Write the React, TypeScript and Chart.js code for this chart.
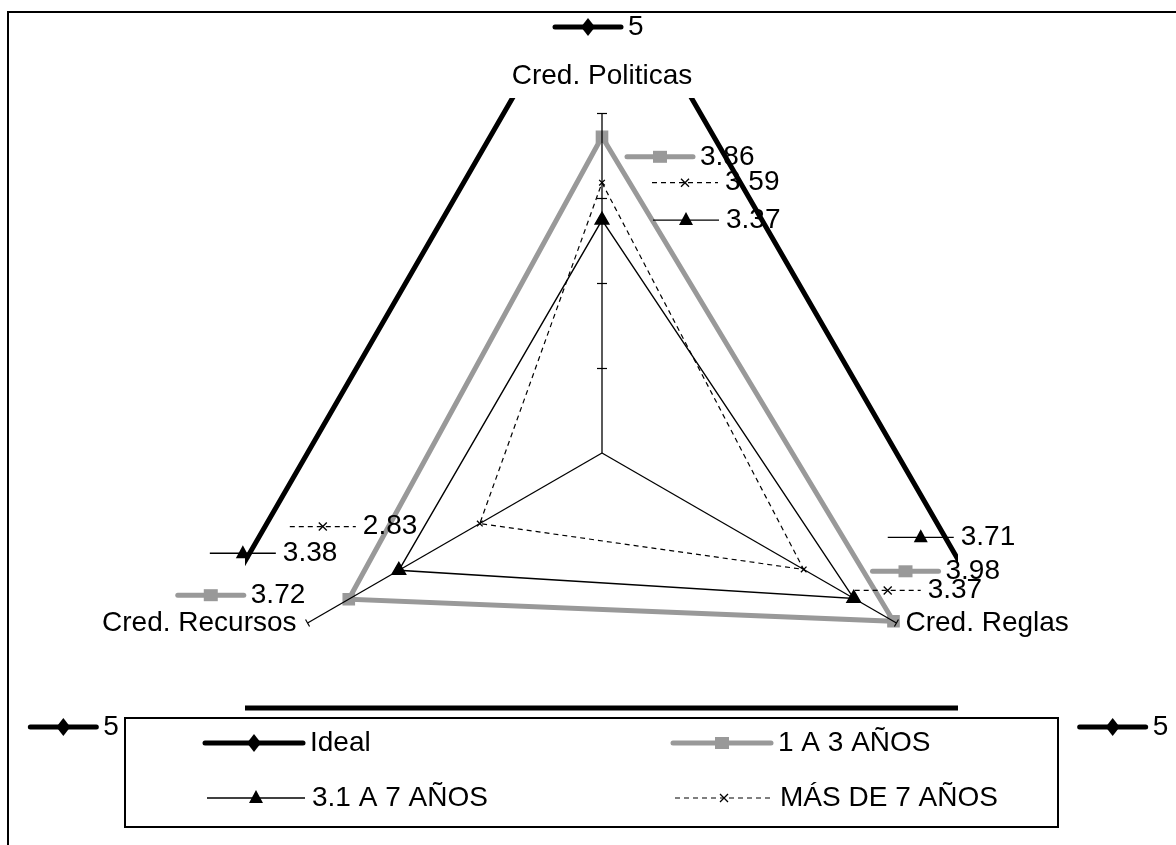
import React, { useEffect, useRef } from 'react';
import { Chart, registerables } from 'chart.js';

Chart.register(...registerables);

// ---------- data ----------
const categories = ['Cred. Politicas', 'Cred. Reglas', 'Cred. Recursos'];
const seriesNames = ['Ideal', '1 A 3 AÑOS', '3.1 A 7 AÑOS', 'MÁS DE 7 AÑOS'];
const idealValues = [5, 5, 5];
const years1to3 = [3.86, 3.98, 3.72];
const years3to7 = [3.37, 3.71, 3.38];
const yearsOver7 = [3.59, 3.37, 2.83];
const axisMin = 2;
const axisMax = 4;
const axisStep = 0.5;
const axisTickValues = [2.5, 3, 3.5, 4];

// ---------- styles / layout ----------
const FONT = '28px "Liberation Sans", Arial, sans-serif';
const GRAY = '#999999';
type Marker = 'diamond' | 'square' | 'triangle' | 'x';
const seriesStyles: { color: string; width: number; dash: number[]; marker: Marker }[] = [
  { color: '#000000', width: 5, dash: [], marker: 'diamond' },
  { color: GRAY, width: 5, dash: [], marker: 'square' },
  { color: '#000000', width: 1.4, dash: [], marker: 'triangle' },
  { color: '#000000', width: 1.2, dash: [5, 4], marker: 'x' },
];
// data label offsets relative to each point: [key start dx, dy]
const labelOffsets: number[][][] = [
  [[-47, 84], [36, 19], [-130, 19]],
  [[25, 20], [-21, -50], [-171, -4]],
  [[51, 0], [34, -61], [-189, -17]],
  [[50, 0], [51, 21], [-190, 3]],
];
const LABEL_KEY_LEN = 66;
const LABEL_TEXT_GAP = 7;

function drawMarker(ctx: CanvasRenderingContext2D, kind: Marker, color: string, x: number, y: number) {
  ctx.save();
  ctx.setLineDash([]);
  ctx.fillStyle = color;
  ctx.strokeStyle = color;
  ctx.beginPath();
  if (kind === 'diamond') {
    ctx.moveTo(x - 7, y);
    ctx.lineTo(x, y - 9);
    ctx.lineTo(x + 7, y);
    ctx.lineTo(x, y + 9);
    ctx.closePath();
    ctx.fill();
  } else if (kind === 'square') {
    ctx.rect(x - 7, y - 6, 14, 12);
    ctx.fill();
  } else if (kind === 'triangle') {
    ctx.moveTo(x, y - 8);
    ctx.lineTo(x + 7, y + 5);
    ctx.lineTo(x - 7, y + 5);
    ctx.closePath();
    ctx.fill();
  } else {
    ctx.lineWidth = 1.3;
    ctx.moveTo(x - 4, y - 4);
    ctx.lineTo(x + 4, y + 4);
    ctx.moveTo(x - 4, y + 4);
    ctx.lineTo(x + 4, y - 4);
    ctx.stroke();
  }
  ctx.restore();
}

function drawKey(ctx: CanvasRenderingContext2D, s: number, x0: number, x1: number, y: number) {
  const st = seriesStyles[s];
  ctx.save();
  ctx.strokeStyle = st.color;
  ctx.lineWidth = st.width;
  ctx.lineCap = st.width > 2 ? 'round' : 'butt';
  ctx.setLineDash(st.dash);
  ctx.beginPath();
  ctx.moveTo(x0, y);
  ctx.lineTo(x1, y);
  ctx.stroke();
  ctx.restore();
  drawMarker(ctx, st.marker, st.color, (x0 + x1) / 2, y);
}

const decorPlugin = {
  id: 'decor',
  afterDraw(chart: any) {
    const ctx: CanvasRenderingContext2D = chart.ctx;
    const scale = chart.scales.r;
    ctx.save();

    // outer frame (top and left edges visible)
    ctx.fillStyle = '#000';
    ctx.fillRect(7, 11, 1169, 2);
    ctx.fillRect(7, 11, 2, 834);

    // tick marks on the value axis
    ctx.strokeStyle = '#000';
    ctx.lineWidth = 1.2;
    axisTickValues.forEach((v) => {
      const p = scale.getPointPositionForValue(0, v);
      ctx.beginPath();
      ctx.moveTo(p.x - 5, Math.round(p.y) + 0.5);
      ctx.lineTo(p.x + 5, Math.round(p.y) + 0.5);
      ctx.stroke();
    });
    [1, 2].forEach((i) => {
      const p = scale.getPointPositionForValue(i, axisMax);
      const a = scale.getIndexAngle(i) - Math.PI / 2;
      const nx = -Math.sin(a) * 4;
      const ny = Math.cos(a) * 4;
      ctx.beginPath();
      ctx.moveTo(p.x - nx, p.y - ny);
      ctx.lineTo(p.x + nx, p.y + ny);
      ctx.stroke();
    });

    // category labels
    ctx.font = FONT;
    ctx.fillStyle = '#000';
    ctx.textBaseline = 'middle';
    const r = scale.drawingArea;
    const p0 = scale.getPointPosition(0, r + 37);
    ctx.textAlign = 'center';
    ctx.fillText(categories[0], p0.x, p0.y);
    const p1 = scale.getPointPosition(1, r);
    ctx.textAlign = 'left';
    ctx.fillText(categories[1], p1.x + 9, p1.y);
    const p2 = scale.getPointPosition(2, r);
    ctx.textAlign = 'right';
    ctx.fillText(categories[2], p2.x - 11, p2.y);

    // data labels with legend keys
    chart.data.datasets.forEach((ds: any, d: number) => {
      const meta = chart.getDatasetMeta(d);
      meta.data.forEach((pt: any, i: number) => {
        const [dx, dy] = labelOffsets[d][i];
        const x0 = pt.x + dx;
        const y = pt.y + dy;
        drawKey(ctx, d, x0, x0 + LABEL_KEY_LEN, y);
        ctx.fillStyle = '#000';
        ctx.font = FONT;
        ctx.textAlign = 'left';
        ctx.textBaseline = 'middle';
        ctx.fillText(String(ds.data[i]), x0 + LABEL_KEY_LEN + LABEL_TEXT_GAP, y);
      });
    });

    // legend box
    ctx.strokeStyle = '#000';
    ctx.lineWidth = 2;
    ctx.setLineDash([]);
    ctx.strokeRect(125, 718, 933, 109);
    const legendPos = [
      [205, 743],
      [673, 743],
      [207, 798],
      [675, 798],
    ];
    seriesNames.forEach((name, s) => {
      const [x0, y] = legendPos[s];
      drawKey(ctx, s, x0, x0 + 98, y);
      ctx.fillStyle = '#000';
      ctx.font = FONT;
      ctx.textAlign = 'left';
      ctx.textBaseline = 'middle';
      ctx.fillText(name, x0 + 105, y);
    });

    ctx.restore();
  },
};

export default function App() {
  const ref = useRef<HTMLCanvasElement>(null);
  useEffect(() => {
    const canvas = ref.current;
    if (!canvas) return;
    const series = [idealValues, years1to3, years3to7, yearsOver7];
    const pointStyles = ['rectRot', 'rect', 'triangle', 'crossRot'];
    const pointRadii = [7, 8, 8, 4];
    const chart = new Chart(canvas, {
      type: 'radar',
      data: {
        labels: categories,
        datasets: series.map((vals, i) => ({
          label: seriesNames[i],
          data: vals,
          borderColor: seriesStyles[i].color,
          backgroundColor: 'rgba(0,0,0,0)',
          borderWidth: seriesStyles[i].width,
          borderDash: seriesStyles[i].dash,
          fill: false,
          tension: 0,
          pointStyle: pointStyles[i] as any,
          pointRadius: pointRadii[i],
          pointBorderWidth: 1.3,
          pointBackgroundColor: seriesStyles[i].color,
          pointBorderColor: seriesStyles[i].color,
          clip: i === 0 ? ({ left: 17, right: 16, top: 15, bottom: -82 } as any) : (false as any),
        })),
      },
      options: {
        responsive: false,
        animation: false,
        devicePixelRatio: 1,
        layout: { padding: { left: 262, right: 234, top: 113, bottom: 52 } },
        plugins: { legend: { display: false }, tooltip: { enabled: false } },
        scales: {
          r: {
            min: axisMin,
            max: axisMax,
            ticks: { display: false, stepSize: axisStep },
            grid: { display: false, z: 1 } as any,
            angleLines: { display: true, color: '#000000', lineWidth: 1.3 },
            pointLabels: { display: false },
          },
        },
      },
      plugins: [decorPlugin],
    } as any);
    return () => chart.destroy();
  }, []);
  return (
    <div style={{ position: 'fixed', left: 0, top: 0, width: 1176, height: 845, background: '#ffffff' }}>
      <canvas ref={ref} width={1176} height={845} style={{ display: 'block', width: 1176, height: 845 }} />
    </div>
  );
}
